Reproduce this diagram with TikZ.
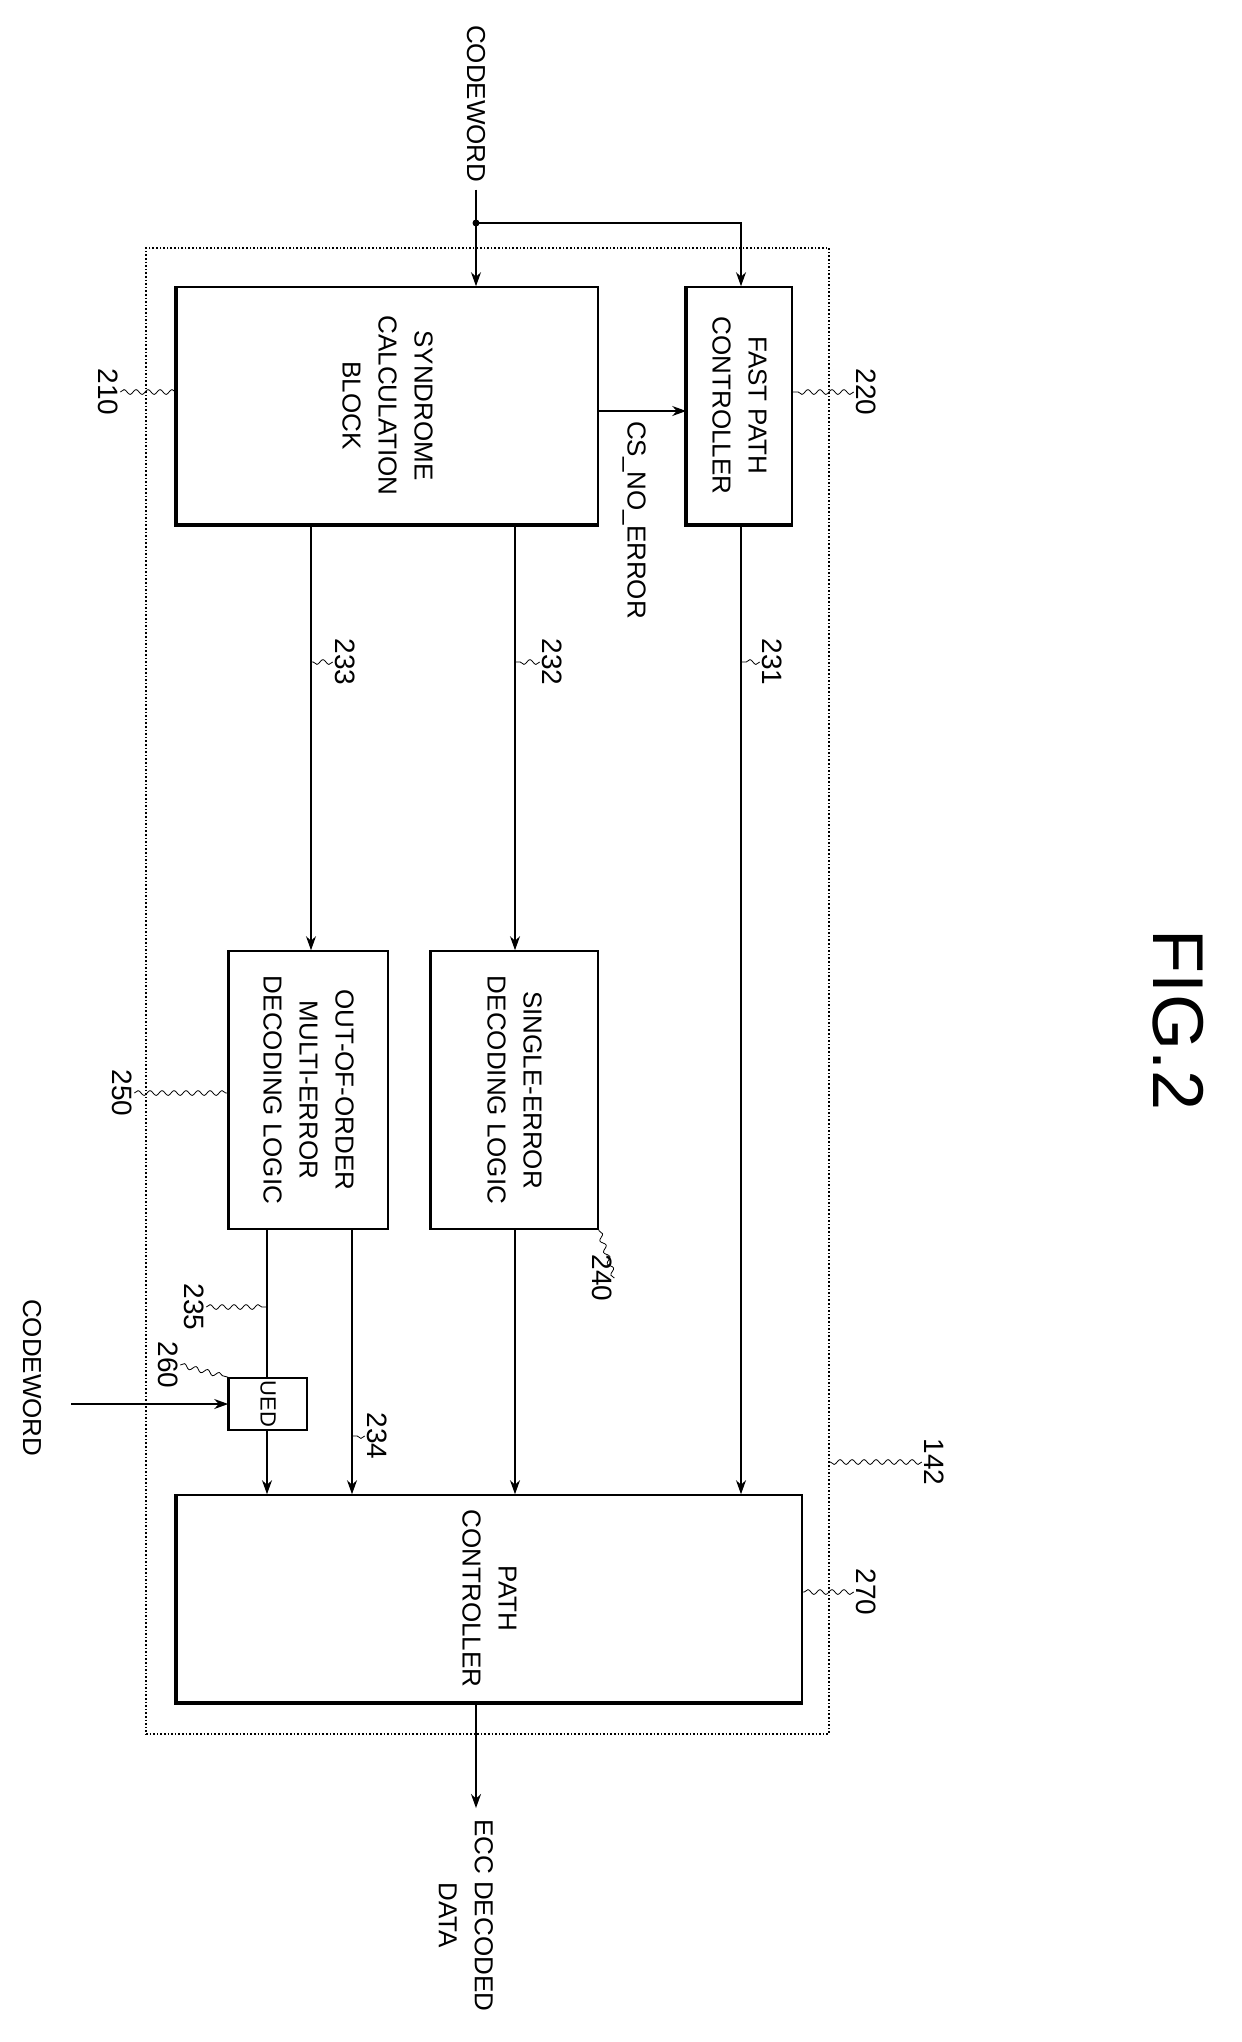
\documentclass[tikz,border=0pt]{standalone}
\usepackage{fontspec}
\setmainfont{Liberation Sans}
\usetikzlibrary{arrows.meta,decorations.pathmorphing}
\tikzset{
  blk/.style={draw,rectangle,line width=0.8pt,align=center,inner sep=0pt},
  txt/.style={rotate=-90,align=center,font=\fontsize{13}{18}\selectfont},
  num/.style={rotate=-90,font=\fontsize{14}{16}\selectfont,inner sep=1pt},
  sig/.style={line width=0.7pt,-{Stealth[length=7pt,width=5pt]}},
  lead/.style={line width=0.4pt,decorate,decoration={snake,amplitude=1.2pt,segment length=6pt}}
}
\begin{document}
\begin{tikzpicture}[x=0.5pt,y=-0.5pt]
\useasboundingbox (0,0) rectangle (1242,2042);
% blocks
\node[blk,densely dotted,minimum width=341.5pt,minimum height=743pt] (ecc) at (487.5,991) {};
\node[blk,minimum width=210.5pt,minimum height=118.5pt] (syn) at (387.5,405.5) {};
\node[txt] at (syn) {SYNDROME\\CALCULATION\\BLOCK};
\node[blk,minimum width=52.5pt,minimum height=118.5pt] (fast) at (739.5,405.5) {};
\node[txt] at (fast) {FAST PATH\\CONTROLLER};
\node[blk,minimum width=83.5pt,minimum height=139pt] (single) at (514.5,1090) {};
\node[txt] at (single) {SINGLE-ERROR\\DECODING LOGIC};
\node[blk,minimum width=79.5pt,minimum height=139pt] (multi) at (308.5,1090) {};
\node[txt] at (multi) {OUT-OF-ORDER\\MULTI-ERROR\\DECODING LOGIC};
\node[blk,minimum width=39pt,minimum height=26pt] (ued) at (268,1404) {};
\node[txt,font=\fontsize{11}{13}\selectfont] at (ued) {UED};
\node[blk,minimum width=312.5pt,minimum height=103.5pt] (path) at (489.5,1598.5) {};
\node[txt] at (path) {PATH\\CONTROLLER};

% thick edges
\draw[line width=2pt] (syn.north west) -- (syn.south west) -- (syn.south east);
\draw[line width=2pt] (fast.north west) -- (fast.south west) -- (fast.south east);
\draw[line width=2pt] (path.north west) -- (path.south west) -- (path.south east);
\draw[line width=1.6pt] (multi.north west) -- (multi.south west);
\draw[line width=1.6pt] (single.north west) -- (single.south west);
\draw[line width=1.6pt] (ued.north west) -- (ued.south west);

% columns
\coordinate (cA) at (267,0);
\coordinate (cB) at (311,0);
\coordinate (cC) at (352,0);
\coordinate (cD) at (515,0);
\coordinate (cE) at (741,0);
\coordinate (cM) at (476,0);

% inputs and outputs
\node[txt,anchor=west] (cwin) at (476,18) {CODEWORD};
\coordinate (split) at (476,223);
\fill (split) circle (3.5);
\draw[sig] (cwin.east) -- (split) -- (syn.north -| cM);
\draw[sig] (split) -| (fast.north -| cE);
\draw[sig] (syn.east |- 0,411) -- (fast.west |- 0,411);
\node[txt,anchor=west] (cs) at (634,414) {CS\_NO\_ERROR};
\draw[sig] (fast.south -| cE) -- (path.north -| cE);
\draw[sig] (syn.south -| cD) -- (single.north -| cD);
\draw[sig] (syn.south -| cB) -- (multi.north -| cB);
\draw[sig] (single.south -| cD) -- (path.north -| cD);
\draw[sig] (multi.south -| cC) -- (path.north -| cC);
\draw[line width=0.7pt] (multi.south -| cA) -- (ued.north -| cA);
\draw[sig] (ued.south -| cA) -- (path.north -| cA);
\node[txt,anchor=west] (cwlow) at (32,1292) {CODEWORD};
\coordinate (cwfrom) at (71,1404);
\draw[sig] (cwfrom) -- (ued.west);
\coordinate (outend) at (476,1808);
\draw[sig] (path.south -| cM) -- (outend);
\node[txt,anchor=north west] (out) at (500,1812) {ECC DECODED\\DATA};

% reference numerals
\node[num] (n210) at (108,392) {210};
\draw[lead] (n210.north) -- (syn.west |- n210);
\node[num] (n220) at (866,392) {220};
\draw[lead] (n220.south) -- (fast.east |- n220);
\node[num] (n233) at (345,662) {233};
\draw[lead] (n233.south) -- (cB |- n233);
\node[num] (n232) at (552,662) {232};
\draw[lead] (n232.south) -- (cD |- n232);
\node[num] (n231) at (772,662) {231};
\draw[lead] (n231.south) -- (cE |- n231);
\node[num] (n250) at (122,1093) {250};
\draw[lead] (n250.north) -- (multi.west |- n250);
\node[num] (n240) at (602,1278) {240};
\draw[lead] (n240.north) -- (single.south east);
\node[num] (n235) at (194,1307) {235};
\draw[lead] (n235.north) -- (cA |- n235);
\node[num] (n260) at (168,1365) {260};
\draw[lead] (n260.north) -- (ued.north west);
\node[num] (n234) at (377,1436) {234};
\draw[lead] (n234.south) -- (cC |- n234);
\node[num] (n142) at (934,1462) {142};
\draw[lead] (n142.south) -- (ecc.east |- n142);
\node[num] (n270) at (866,1592) {270};
\draw[lead] (n270.south) -- (path.east |- n270);

\node[rotate=-90,font=\fontsize{36}{40}\selectfont] (fig) at (1178,1020) {FIG.2};
\end{tikzpicture}
\end{document}
